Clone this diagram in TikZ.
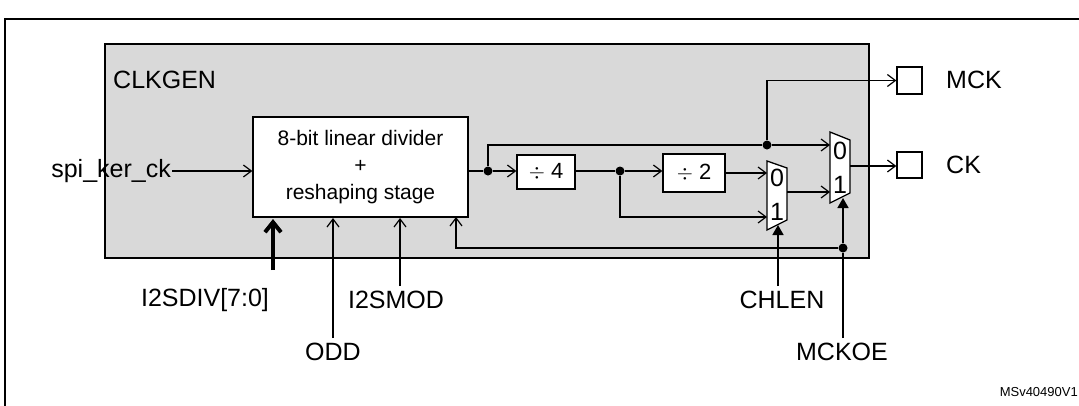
\documentclass[tikz,border=0pt]{standalone}
\usepackage{fontspec}
\setmainfont{Liberation Sans}
\usetikzlibrary{arrows.meta}
\begin{document}
\begin{tikzpicture}[x=1pt,y=-1pt,
  ar/.style={-{Straight Barb[length=8pt,width=12pt]},line width=1.2pt},
  sel/.style={-{Triangle[length=10pt,width=11pt]},line width=1.6pt},
  box/.style={draw,line width=1.3pt,fill=white,inner sep=0pt},
  dot/.style={circle,fill,inner sep=0pt,minimum size=9pt},
  lab/.style={font=\fontsize{25}{27}\selectfont,inner sep=1pt}]
\useasboundingbox (0,0) rectangle (1079,405);
\clip (0,0) rectangle (1079,405);
\draw[line width=2pt] (5,19) rectangle (1090,415);
\draw[line width=1.3pt,fill=black!15] (105,44) rectangle (869,258);
\node[lab,anchor=west] (clkgen) at (112,80) {CLKGEN};
\node[box,minimum width=215pt,minimum height=100pt,align=center,font=\fontsize{21}{27}\selectfont] (div) at (360.5,167) {8-bit linear divider\\+\\reshaping stage};
\node[box,minimum width=58pt,minimum height=34pt,font=\fontsize{22}{24}\selectfont] (d4) at (546,172) {$\div$ 4};
\node[box,minimum width=62pt,minimum height=38pt,font=\fontsize{22}{24}\selectfont] (d2) at (694,173) {$\div$ 2};
% muxes
\draw[line width=1.3pt,fill=white] (767,161) -- (787,168) -- (787,220) -- (767,230) -- cycle;
\draw[line width=1.3pt,fill=white] (830,132) -- (850,140) -- (850,193) -- (830,203) -- cycle;
\node[lab] at (777,178) {0};\node[lab] at (777,212) {1};
\node[lab] at (840,151) {0};\node[lab] at (840,185) {1};
\coordinate (m1i0) at (767,173); \coordinate (m1i1) at (767,217);
\coordinate (m1o) at (787,192); \coordinate (m1s) at (778,225);
\coordinate (m2i0) at (830,145); \coordinate (m2i1) at (830,192);
\coordinate (m2o) at (850,166); \coordinate (m2s) at (843,198);
\node[box,minimum width=25pt,minimum height=27pt] (mck) at (909.5,80.5) {};
\node[box,minimum width=25pt,minimum height=26pt] (ck) at (909.5,165) {};
\node[lab,anchor=west] (mckl) at (945,80) {MCK};
\node[lab,anchor=west] (ckl) at (945,165) {CK};
\node[lab,anchor=east] (spi) at (172,171) {spi\_ker\_ck};
\draw[ar] (spi.east) -- (div.west|-spi);
\node[dot] (p1) at (488,171) {};
\node[dot] (p2) at (620,171) {};
\node[dot] (p3) at (767,145) {};
\node[dot] (p4) at (843,248) {};
\draw[line width=1.2pt] (div.east|-p1) -- (p1);
\draw[ar] (p1) -- (d4.west|-p1);
\draw[line width=1.2pt] (d4.east|-p2) -- (p2);
\draw[ar] (p2) -- (d2.west|-p2);
\draw[ar] (d2.east|-m1i0) -- (m1i0);
\draw[ar] (p2) |- (m1i1);
\draw[line width=1.2pt] (p1) |- (p3);
\draw[ar] (p3) -- (m2i0);
\draw[ar] (p3) |- (mck.west);
\draw[ar] (m1o) -- (m2i1);
\draw[ar] (m2o) -- (ck.west|-m2o);
\draw[ar] (p4) -| (456,217);
\node[lab] (i2sdiv) at (205,300) {I2SDIV[7:0]};
\node[lab] (odd) at (333,352) {ODD};
\node[lab] (i2smod) at (396,300) {I2SMOD};
\node[lab] (chlen) at (782,300) {CHLEN};
\node[lab] (mckoe) at (842,352) {MCKOE};
\draw[-{Straight Barb[length=10pt,width=16pt]},line width=4pt] (273,270) -- (273,219);
\draw[ar] (333,338) -- (333,218);
\draw[ar] (400,286) -- (400,218);
\draw[sel] (778,286) -- (m1s);
\draw[sel] (843,338) -- (p4) -- (m2s);
\node[font=\fontsize{13}{15}\selectfont,anchor=east,inner sep=1pt] (ver) at (1079,392) {MSv40490V1};
\end{tikzpicture}
\end{document}
